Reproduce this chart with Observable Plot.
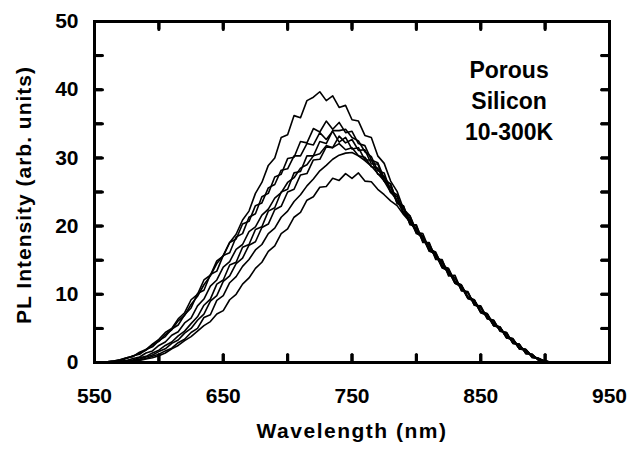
<!DOCTYPE html>
<html><head><meta charset="utf-8">
<script src="https://cdn.jsdelivr.net/npm/d3@7"></script>
<script src="https://cdn.jsdelivr.net/npm/@observablehq/plot@0.6"></script>
<style>body{margin:0;background:#fff} svg{display:block}</style>
</head><body><div id="chart"></div>
<script>
const wavelength = [555,560,565,570,575,580,585,590,595,600,605,610,615,620,625,630,635,640,645,650,655,660,665,670,675,680,685,690,695,700,705,710,715,720,725,730,735,740,745,750,755,760,765,770,775,780,785,790,795,800,805,810,815,820,825,830,835,840,845,850,855,860,865,870,875,880,885,890,895,900,905];

const curveA = [0,0.1,0.2,0.4,0.7,0.9,1.4,1.8,2.6,3.1,4.1,4.8,6.1,6.9,8.5,9.7,11.4,12.7,14.5,15.7,17.6,18.8,20.9,22.2,24.8,26.4,28.9,30.0,33.0,33.4,36.2,35.9,38.4,38.9,39.7,38.4,39.1,37.4,37.7,35.6,35.4,33.3,33.0,30.3,29.2,26.6,25.1,22.5,21.5,19.3,18.5,16.5,15.8,13.9,13.4,11.6,11.1,9.4,9.0,7.3,6.9,5.4,5.1,3.8,3.4,2.2,1.9,0.9,0.6,0.2,0];
const curveB = [0,0.1,0.2,0.3,0.6,1.0,1.2,1.9,2.3,3.2,3.8,4.9,5.5,7.0,8.0,10.1,10.6,12.9,13.4,15.7,16.1,18.4,18.9,21.3,21.8,24.3,24.8,27.2,27.6,29.9,30.1,32.4,32.2,34.3,33.8,35.4,34.2,35.2,33.7,33.9,32.1,31.8,29.7,29.3,27.0,26.1,23.6,22.9,20.5,20.0,17.9,17.4,15.5,14.9,13.1,12.4,10.8,10.2,8.6,8.0,6.6,5.9,4.7,4.2,2.9,2.5,1.5,1.1,0.4,0.2,0];
const curveC = [0,0,0.05,0.1,0.2,0.4,0.7,0.9,1.4,1.8,2.5,3.0,3.9,4.6,5.7,6.7,8.4,9.3,11.5,12.1,14.3,14.7,16.9,17.3,19.5,19.9,22.2,22.7,25.0,25.4,27.8,28.0,30.3,30.3,32.4,32.1,34.0,34.0,34.2,33.0,32.5,30.9,30.2,28.1,27.8,25.1,24.6,22.0,21.5,19.1,18.9,16.6,16.2,14.1,13.8,11.8,11.4,9.6,9.2,7.5,7.2,5.6,5.2,3.8,3.5,2.1,1.9,0.9,0.6,0.1,0];
const curveD = [0.05,0.1,0.2,0.4,0.7,0.9,1.5,1.9,2.7,3.4,4.4,5.0,6.4,7.3,9.2,10.0,12.1,12.8,14.9,15.6,17.6,18.1,20.3,20.7,23.0,23.4,25.6,26.1,28.2,28.4,30.3,30.3,32.1,31.9,33.7,32.7,33.9,32.3,33.0,31.3,31.5,29.7,29.7,27.6,27.3,24.9,24.3,21.8,21.2,18.9,18.5,16.3,16.0,13.9,13.6,11.6,11.2,9.4,9.1,7.3,7.1,5.5,5.1,3.7,3.3,2.0,1.8,0.8,0.5,0.1,0];
const curveE = [0,0,0,0.1,0.15,0.3,0.5,0.8,1.1,1.6,2.0,2.8,3.3,4.3,5.0,6.2,7.1,9.0,9.8,11.9,12.7,14.5,15.3,17.2,17.7,19.8,20.3,22.4,22.9,25.0,25.4,27.5,27.7,29.7,29.8,31.6,31.5,33.2,32.2,32.7,31.1,31.2,29.1,29.1,26.6,26.2,23.3,23.0,20.2,20.2,17.6,17.6,15.1,15.1,12.7,12.8,10.5,10.4,8.4,8.3,6.5,6.2,4.6,4.4,2.8,2.7,1.3,1.2,0.3,0.2,0];
const curveF = [0,0,0.1,0.2,0.3,0.6,0.8,1.4,1.7,2.5,3.0,4.0,4.5,5.8,6.5,8.3,9.3,11.2,12.1,14.0,14.8,16.6,17.3,19.2,19.9,21.6,22.5,24.1,24.9,26.4,27.1,28.5,29.0,30.3,30.6,31.8,31.5,32.1,31.2,31.5,30.3,30.1,28.7,28.5,26.6,25.7,23.4,22.6,20.3,19.7,17.8,17.2,15.3,14.7,12.9,12.4,10.6,10.3,8.4,8.2,6.4,6.2,4.6,4.4,2.8,2.7,1.3,1.2,0.3,0.3,0];
const curveG = [0,0,0,0.05,0.1,0.2,0.4,0.6,0.9,1.2,1.7,2.1,2.9,3.4,4.4,5.0,6.6,7.0,9.1,9.8,11.7,12.6,14.1,15.1,16.5,17.3,18.9,19.7,21.3,22.2,23.6,24.6,25.9,26.9,28.1,28.9,29.8,30.4,30.7,30.8,30.3,29.6,28.8,27.7,26.6,25.0,23.8,21.9,20.9,19.0,18.3,16.4,15.9,14.1,13.5,11.7,11.2,9.5,9.1,7.4,7.1,5.4,5.2,3.6,3.4,2.0,1.9,0.7,0.6,0.1,0];
const curveL = [0,0,0,0.05,0.1,0.2,0.3,0.5,0.7,1.0,1.4,2.0,2.5,3.2,3.8,4.6,5.4,6.0,7.1,7.6,9.2,10.0,11.5,12.4,13.8,14.7,16.3,17.1,18.9,19.6,21.3,22.0,23.8,24.3,25.7,25.8,27.0,26.7,27.7,27.0,27.8,26.6,26.5,25.4,24.6,23.7,23.0,21.7,20.6,19.3,18.5,16.8,16.0,14.3,13.6,11.9,11.3,9.6,9.1,7.5,7.1,5.4,5.2,3.6,3.4,2.0,1.9,0.8,0.6,0.1,0];

const xTickValues = [550,600,650,700,750,800,850,900,950];
const xLabelValues = [550,650,750,850,950];
const yTickValues = [0,5,10,15,20,25,30,35,40,45,50];
const yLabelValues = [0,10,20,30,40,50];
const annotationLines = ["Porous","Silicon","10-300K"];
const annotationRows = [{x: 872, y: 38.6, text: annotationLines.join("\n")}];

const series = {A: curveA, B: curveB, C: curveC, D: curveD, E: curveE, F: curveF, G: curveG, L: curveL};
const rows = [];
for (const [name, vals] of Object.entries(series)) {
  vals.forEach((v, i) => rows.push({name, w: wavelength[i], v}));
}

const W = 629, H = 450, mL = 94, mR = 20, mT = 21, mB = 88;
const frameW = W - mL - mR, frameH = H - mT - mB;
const TL = 8; // inward tick length in px
const xDomain = [550, 950], yDomain = [0, 50];

// tick as a plain line segment drawn by the vector mark
const tickShape = {draw(context, l) { context.moveTo(0, 0); context.lineTo(0, -l); }};
const vecOpts = {length: TL, anchor: "start", shape: tickShape, stroke: "#000", strokeWidth: 3};

const chart = Plot.plot({
  width: W, height: H,
  marginLeft: mL, marginRight: mR, marginTop: mT, marginBottom: mB,
  style: {fontFamily: "Arial, 'Liberation Sans', sans-serif", fontWeight: "bold", fontSize: "21px", color: "#000", background: "#fff", overflow: "visible"},
  x: {domain: xDomain},
  y: {domain: yDomain},
  marks: [
    Plot.line(rows, {x: "w", y: "v", z: "name", stroke: "#000", strokeWidth: 1.6}),
    Plot.axisX(xLabelValues, {anchor: "bottom", tickSize: 0, tickPadding: 26, label: null}),
    Plot.axisY(yLabelValues, {anchor: "left", tickSize: 0, tickPadding: 16, label: null}),
    Plot.frame({stroke: "#000", strokeWidth: 3}),
    Plot.text(["Wavelength (nm)"], {frameAnchor: "bottom", dy: 75, fontSize: 21, fontWeight: "bold"}),
    Plot.text(["PL Intensity (arb. units)"], {frameAnchor: "left", dx: -70, dy: 3, rotate: -90, textAnchor: "middle", fontSize: 21, fontWeight: "bold"}),
    Plot.text(annotationRows, {x: "x", y: "y", text: "text", lineHeight: 1.35, fontSize: 23, fontWeight: "bold", lineAnchor: "middle"}),
    // inward ticks on all four sides (drawn as vectors from the frame edge)
    Plot.vector(xTickValues, {...vecOpts, x: d => d, frameAnchor: "bottom", rotate: 0}),
    Plot.vector(xTickValues, {...vecOpts, x: d => d, frameAnchor: "top", rotate: 180}),
    Plot.vector(yTickValues, {...vecOpts, y: d => d, frameAnchor: "left", rotate: 90}),
    Plot.vector(yTickValues, {...vecOpts, y: d => d, frameAnchor: "right", rotate: -90}),
    // same ticks again as inset tick marks
    Plot.tickX(xTickValues, {x: d => d, insetTop: frameH - TL, stroke: "#000", strokeWidth: 3}),
    Plot.tickX(xTickValues, {x: d => d, insetBottom: frameH - TL, stroke: "#000", strokeWidth: 3}),
    Plot.tickY(yTickValues, {y: d => d, insetRight: frameW - TL, stroke: "#000", strokeWidth: 3}),
    Plot.tickY(yTickValues, {y: d => d, insetLeft: frameW - TL, stroke: "#000", strokeWidth: 3})
  ]
});
document.getElementById("chart").append(chart);
chart.querySelectorAll("text").forEach(t => {
  if (t.textContent === "PL Intensity (arb. units)") t.setAttribute("letter-spacing", "1px");
  if (t.textContent === "Wavelength (nm)") t.setAttribute("letter-spacing", "1.5px");
});
</script>
</body></html>
